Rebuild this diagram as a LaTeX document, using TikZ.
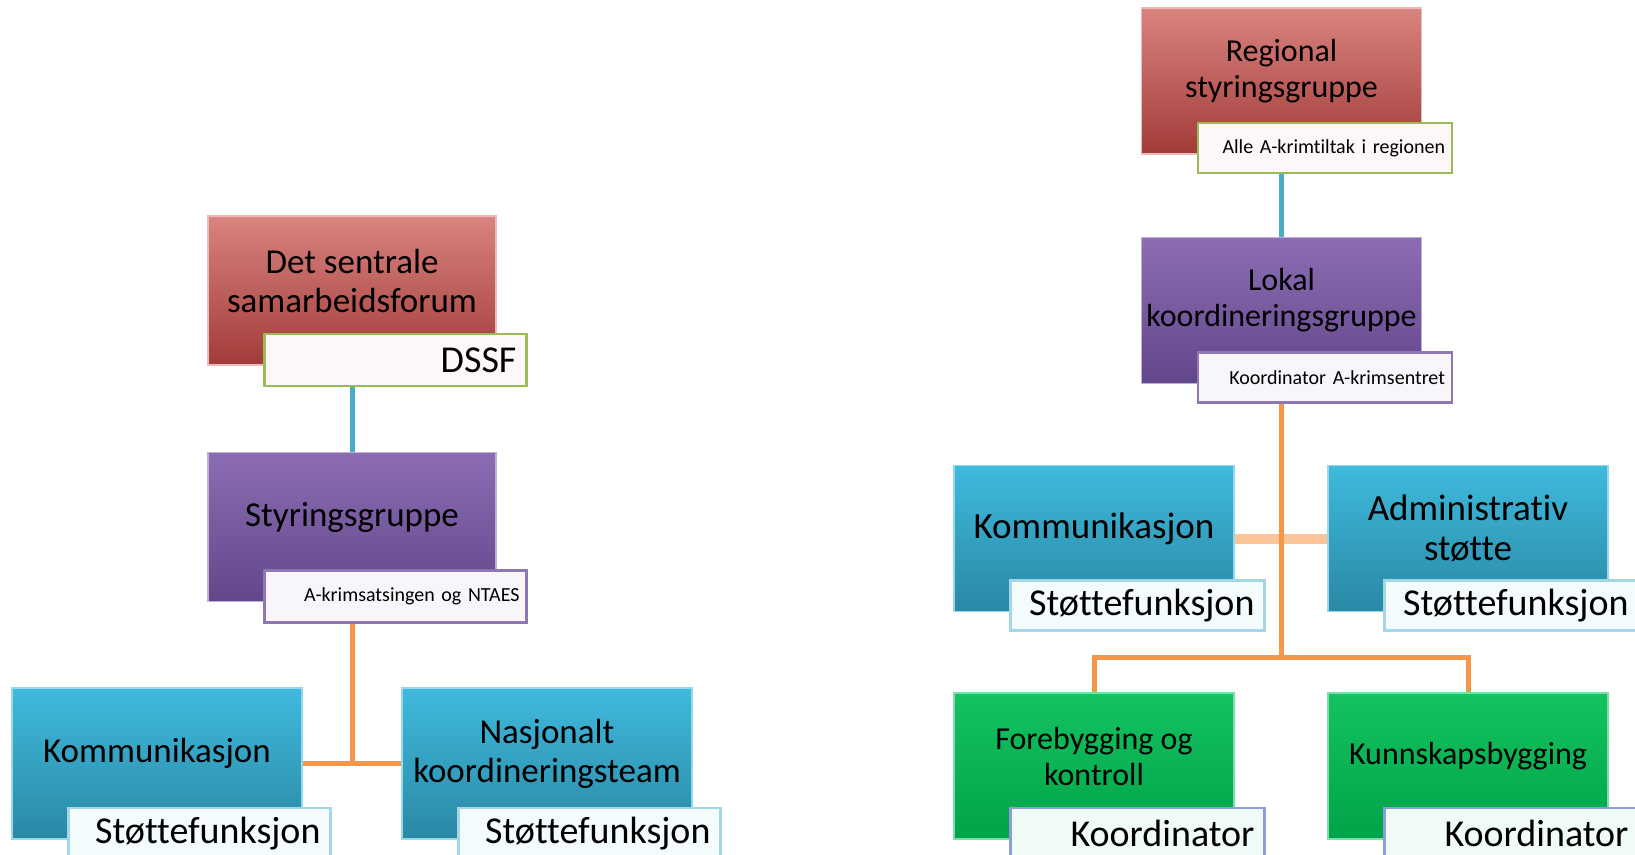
\documentclass[tikz,border=0pt]{standalone}
\usepackage{fontspec}
\setmainfont{Carlito}[Ligatures=NoCommon]

\definecolor{redtop}{HTML}{D9847F}
\definecolor{redbot}{HTML}{A23B39}
\definecolor{purtop}{HTML}{8C6DB3}
\definecolor{purbot}{HTML}{62468A}
\definecolor{blutop}{HTML}{3FBADD}
\definecolor{blubot}{HTML}{2A88A5}
\definecolor{grntop}{HTML}{14C260}
\definecolor{grnbot}{HTML}{00A448}
\definecolor{lgreen}{HTML}{9BBB59}
\definecolor{lpurple}{HTML}{8F76B5}
\definecolor{lblue}{HTML}{A3D6E6}
\definecolor{lviolet}{HTML}{8E9CDC}
\definecolor{conblue}{HTML}{4BACC6}
\definecolor{conorange}{HTML}{F79646}

\tikzset{
  lbox/.style={minimum width=288pt, minimum height=149pt, inner sep=0pt, line width=1.5pt},
  rbox/.style={minimum width=280pt, minimum height=146pt, inner sep=0pt, line width=1.5pt},
  redbox/.style={top color=redtop, bottom color=redbot, draw=redtop!55!white},
  purbox/.style={top color=purtop, bottom color=purbot, draw=purtop!55!white},
  blubox/.style={top color=blutop, bottom color=blubot, draw=blutop!55!white},
  grnbox/.style={top color=grntop, bottom color=grnbot, draw=grntop!55!white},
  boxtext/.style={align=center, font=\fontsize{35}{39}\selectfont},
  lbl/.style={anchor=north west, xshift=56pt, yshift=33pt, align=right,
    inner xsep=10pt, inner ysep=0pt, line width=2.5pt,
    font=\fontsize{38}{41}\selectfont},
  lwide/.style={lbl, text width=242pt, minimum height=52pt},
  rwide/.style={lbl, text width=234pt, minimum height=50pt},
  small/.style={font=\fontsize{20}{24}\selectfont, inner xsep=7pt, text width=+6pt},
  blueline/.style={conblue, line width=5pt},
  orangeline/.style={conorange, line width=5pt},
}

\begin{document}
\begin{tikzpicture}[x=1pt, y=-1pt]
  \clip (0,0) rectangle (1635,854);

  % left tree
  \node (dssf) [lbox, redbox] at (352,290.5) {};
  \node (dssft) [boxtext] at ([yshift=10pt]dssf.center) {Det sentrale\\samarbeidsforum};
  \node (dssfl) [lwide, draw=lgreen, fill=redtop!6!white] at (dssf.south west) {DSSF};

  \node (styr) [lbox, purbox] at (352,527) {};
  \node (styrt) [boxtext] at ([yshift=10pt]styr.center) {Styringsgruppe};
  \node (styrl) [lwide, small, text width=248pt, draw=lpurple, fill=purtop!6!white] at (styr.south west) {A-krimsatsingen og NTAES};

  \node (komm) [lbox, blubox, minimum width=290pt, minimum height=151pt] at (157,763.5) {};
  \node (kommt) [boxtext] at ([yshift=10pt]komm.center) {Kommunikasjon};
  \node (komml) [lwide, draw=lblue, fill=blutop!6!white] at (komm.south west) {Støttefunksjon};

  \node (nasj) [lbox, blubox, minimum width=290pt, minimum height=151pt] at (547,763.5) {};
  \node (nasjt) [boxtext] at ([yshift=10pt]nasj.center) {Nasjonalt\\koordineringsteam};
  \node (nasjl) [lwide, draw=lblue, fill=blutop!6!white] at (nasj.south west) {Støttefunksjon};

  \coordinate (lfork) at (komm.east -| styr.south);
  \draw[blueline] (dssfl.south -| dssf.south) -- (styr.north);
  \draw[orangeline] (styrl.south -| styr.south) -- (lfork);
  \draw[orangeline] (komm.east) -- (nasj.west);

  % right tree
  \node (reg) [rbox, redbox] at (1281.5,81) {};
  \node (regt) [boxtext, font=\fontsize{32}{36}\selectfont] at ([yshift=10pt]reg.center) {Regional\\styringsgruppe};
  \node (regl) [rwide, small, text width=240pt, draw=lgreen, fill=redtop!6!white] at (reg.south west) {Alle A-krimtiltak i regionen};

  \node (lok) [rbox, purbox] at (1281.5,310.5) {};
  \node (lokt) [boxtext, font=\fontsize{32}{36}\selectfont] at ([yshift=10pt]lok.center) {Lokal\\koordineringsgruppe};
  \node (lokl) [rwide, small, text width=240pt, draw=lpurple, fill=purtop!6!white] at (lok.south west) {Koordinator A-krimsentret};

  \node (rkomm) [rbox, blubox] at (1094,538.5) {};
  \node (rkommt) [boxtext, font=\fontsize{37}{40}\selectfont] at ([yshift=10pt]rkomm.center) {Kommunikasjon};
  \node (rkomml) [rwide, draw=lblue, fill=blutop!6!white] at (rkomm.south west) {Støttefunksjon};

  \node (adm) [rbox, blubox] at (1468,538.5) {};
  \node (admt) [boxtext, font=\fontsize{37}{40}\selectfont] at ([yshift=10pt]adm.center) {Administrativ\\støtte};
  \node (adml) [rwide, draw=lblue, fill=blutop!6!white] at (adm.south west) {Støttefunksjon};

  \node (fore) [rbox, grnbox] at (1094,766) {};
  \node (foret) [boxtext, font=\fontsize{32}{36}\selectfont] at ([yshift=10pt]fore.center) {Forebygging og\\kontroll};
  \node (forel) [rwide, draw=lviolet, fill=grntop!6!white] at (fore.south west) {Koordinator};

  \node (kunn) [rbox, grnbox] at (1468,766) {};
  \node (kunnt) [boxtext, font=\fontsize{32}{36}\selectfont] at ([yshift=10pt]kunn.center) {Kunnskapsbygging};
  \node (kunnl) [rwide, draw=lviolet, fill=grntop!6!white] at (kunn.south west) {Koordinator};

  \coordinate (rfork) at (1281.5,657);
  \draw[blueline] (regl.south -| reg.south) -- (lok.north);
  \draw[conorange!55!white, line width=10pt] (rkomm.east) -- (adm.west);
  \draw[orangeline] (lokl.south -| lok.south) -- (rfork);
  \draw[orangeline] (fore.north) |- (rfork) -| (kunn.north);
\end{tikzpicture}
\end{document}
